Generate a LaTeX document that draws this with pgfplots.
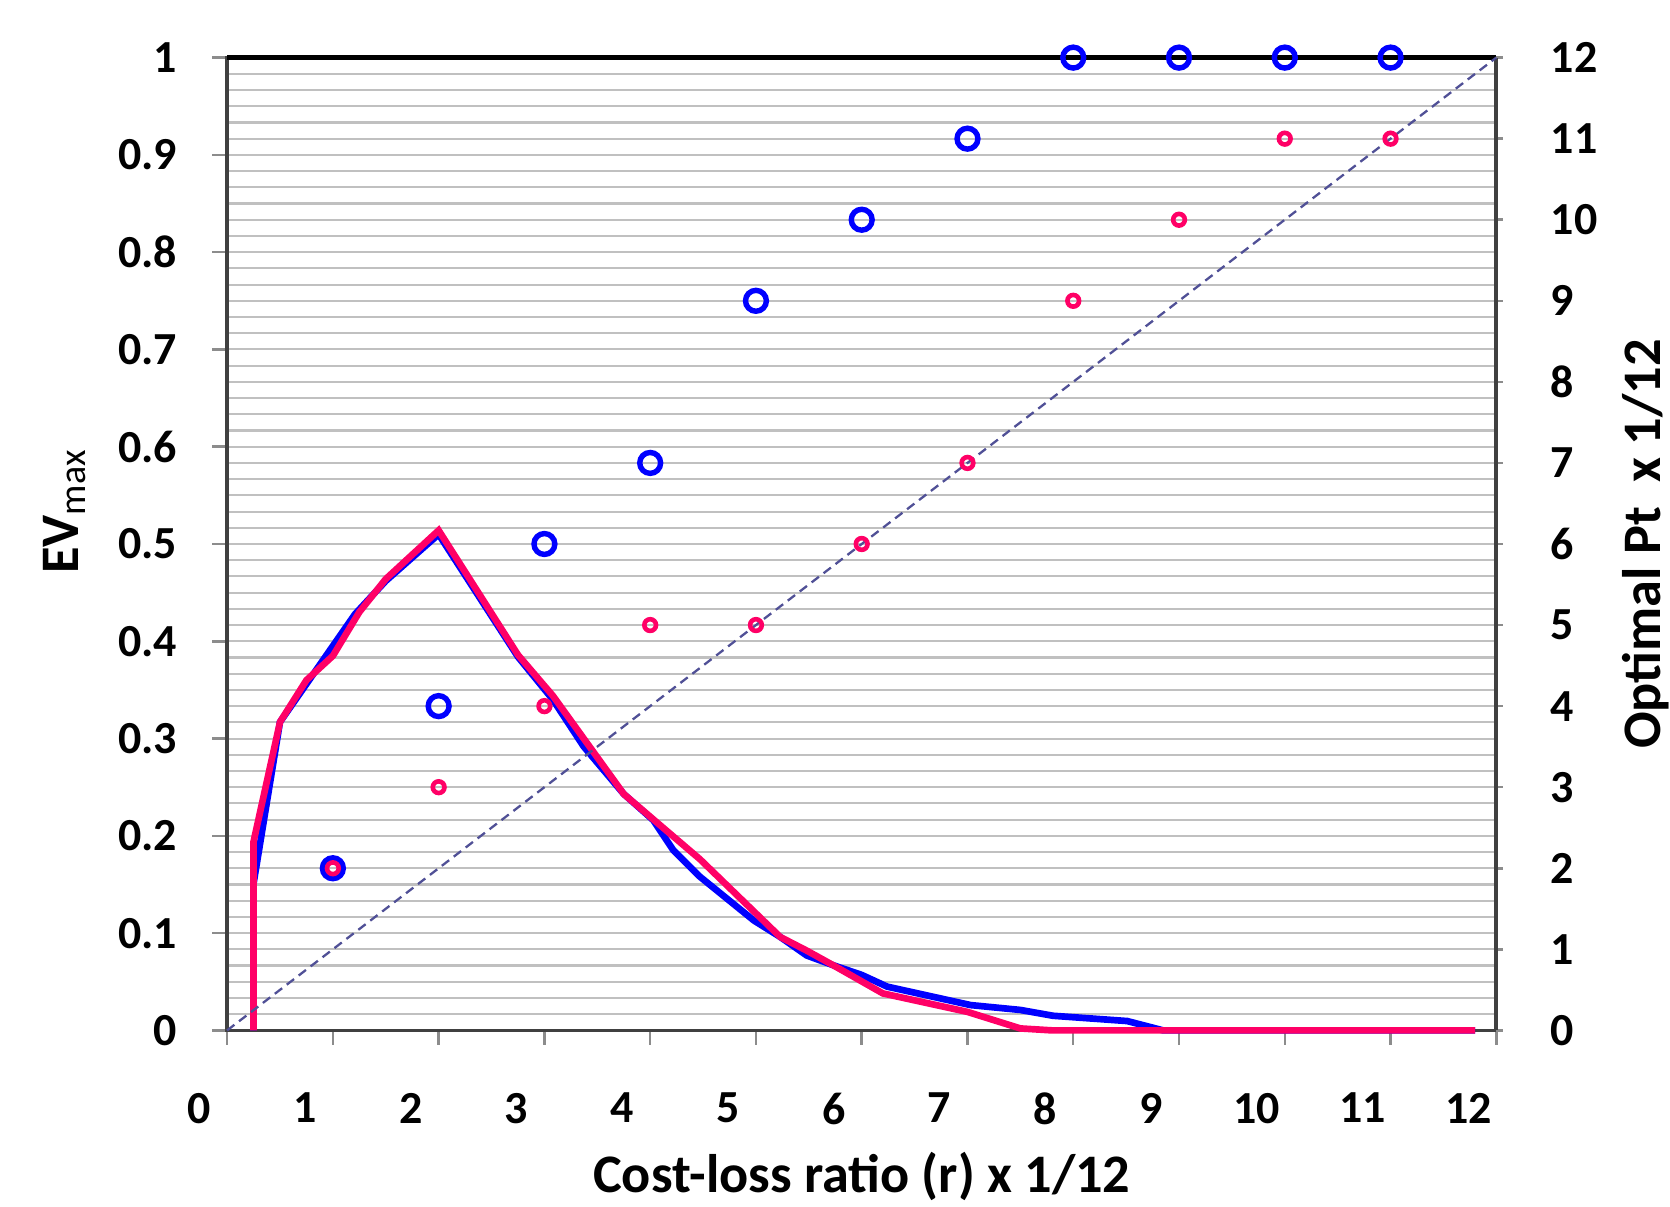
\documentclass[border=0pt]{standalone}
\usepackage{pgfplots}
\pgfplotsset{compat=1.18}
\usepackage{fontspec}
\setmainfont{Carlito}
\definecolor{evblue}{RGB}{0,0,255}
\definecolor{evpink}{RGB}{255,0,102}
\definecolor{diag}{RGB}{80,80,150}
\definecolor{gridgray}{RGB}{192,192,192}
\definecolor{axgray}{RGB}{64,64,64}
\definecolor{tickgray}{RGB}{140,140,140}

\pgfplotsset{
  common/.style={
    scale only axis, width=304pt, height=233pt,
    xmin=0, xmax=12,
    clip=false,
    tick align=outside,
    /pgf/number format/assume math mode=true,
    tick label style={font=\fontsize{11}{13}\selectfont\bfseries},
    label style={font=\fontsize{13}{15}\selectfont\bfseries},
    tick style={tickgray, line width=0.6pt},
    axis line style={axgray, line width=0.9pt},
    minor tick length=0pt,
  }
}

\begin{document}
\begin{tikzpicture}
\path[use as bounding box] (-54.4pt,-42.2pt) rectangle (345.6pt,246.8pt);
\begin{axis}[
  common,
  ymin=0, ymax=1,
  xtick={0,1,2,3,4,5,6,7,8,9,10,11,12},
  ytick={0,0.1,0.2,0.3,0.4,0.5,0.6,0.7,0.8,0.9,1},
  yticklabels={0,0.1,0.2,0.3,0.4,0.5,0.6,0.7,0.8,0.9,1},
  xtick pos=bottom, ytick pos=left,
  major tick length=3.5pt,
  minor y tick num=5,
  ymajorgrids, yminorgrids,
  major grid style={gridgray, line width=0.5pt},
  minor grid style={gridgray, line width=0.5pt},
  xticklabel style={xshift=-6.7pt, yshift=-8pt},
  yticklabel style={xshift=-5pt},
  xlabel={Cost-loss ratio (r) x 1/12},
  xlabel style={at={(axis description cs:0.5,-0.150)}, anchor=center},
  ylabel={EV\textsubscript{\mdseries max}},
  ylabel style={at={(axis description cs:-0.128,0.534)}, anchor=center, rotate=0},
]
\addplot[evblue, line width=1.6pt] coordinates {
(0.25,0) (0.25,0.151) (0.5,0.317) (1.21,0.428) (1.5,0.462) (2.0,0.51)
(2.75,0.384) (3.08,0.34) (3.37,0.292) (3.75,0.243) (4.03,0.216) (4.22,0.185)
(4.47,0.158) (4.98,0.113) (5.23,0.096) (5.48,0.077) (5.73,0.067) (6.0,0.057)
(6.24,0.045) (7.03,0.026) (7.5,0.021) (7.81,0.015) (8.51,0.0096) (8.85,0) (11.8,0)
};
\addplot[evpink, line width=1.6pt] coordinates {
(0.25,0) (0.25,0.194) (0.5,0.317) (0.75,0.36) (1.0,0.385) (1.25,0.43) (1.5,0.464)
(2.0,0.514) (2.75,0.386) (3.08,0.344) (3.75,0.243) (4.05,0.215) (4.47,0.176)
(5.23,0.096) (5.48,0.082) (5.73,0.067) (6.2,0.038) (7.0,0.019) (7.5,0.002)
(7.8,0) (11.8,0)
};
\end{axis}
\begin{axis}[
  common,
  ymin=0, ymax=12,
  hide x axis,
  axis y line*=right,
  ytick={0,1,2,3,4,5,6,7,8,9,10,11,12},
  major tick length=1.5pt,
  yticklabel style={xshift=8pt},
  ylabel={Optimal Pt\ \ x 1/12},
  ylabel style={at={(axis description cs:1.118,0.5)}, anchor=center, rotate=0},
]
\draw[black, line width=1.3pt] (rel axis cs:0,1) -- (rel axis cs:1,1);
\addplot[diag, dash pattern=on 2.2pt off 1.4pt, line width=0.55pt] coordinates {(0,0) (12,12)};
\addplot[only marks, mark=o, mark size=2.5pt, evblue, mark options={line width=1.3pt}] coordinates {
(1,2) (2,4) (3,6) (4,7) (5,9) (6,10) (7,11) (8,12) (9,12) (10,12) (11,12)
};
\addplot[only marks, mark=o, mark size=1.4pt, evpink, mark options={line width=1.1pt}] coordinates {
(1,2) (2,3) (3,4) (4,5) (5,5) (6,6) (7,7) (8,9) (9,10) (10,11) (11,11)
};
\end{axis}
\end{tikzpicture}
\end{document}
